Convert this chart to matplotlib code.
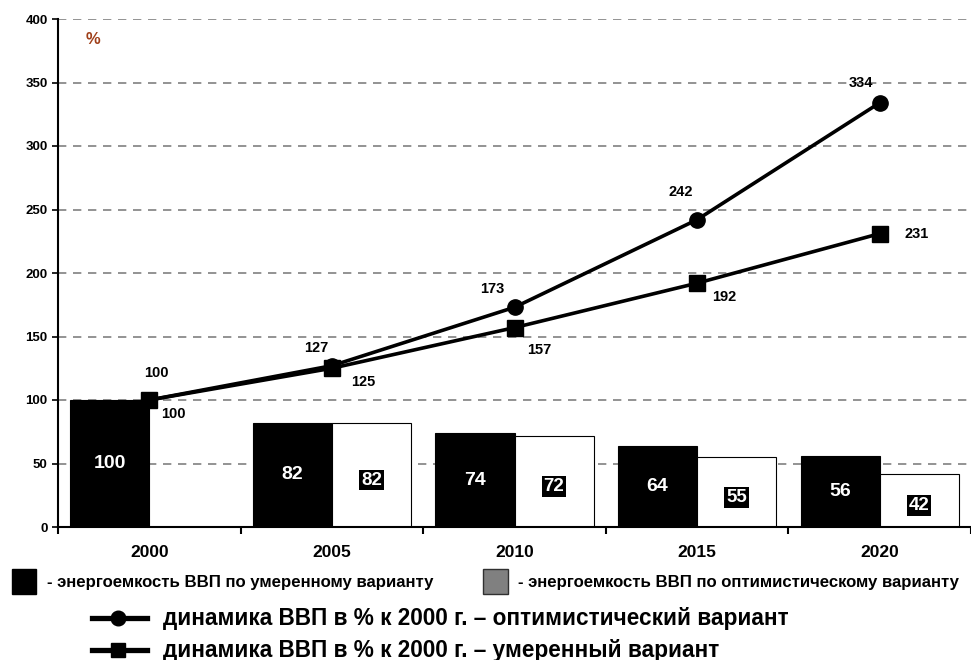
import numpy as np
import matplotlib
matplotlib.use('Agg')
import matplotlib.pyplot as plt
from matplotlib.patches import Rectangle
from matplotlib.lines import Line2D

plt.rcParams['font.family'] = ['Liberation Sans', 'DejaVu Sans']
plt.rcParams['font.weight'] = 'bold'

# data
years = ['2000', '2005', '2010', '2015', '2020']
intensity_moderate = [100, 82, 74, 64, 56]
intensity_optimistic = [None, 82, 72, 55, 42]
gdp_optimistic = [100, 127, 173, 242, 334]
gdp_moderate = [100, 125, 157, 192, 231]

fig = plt.figure(figsize=(9.71, 6.6), dpi=100)
ax = fig.add_axes([58 / 971, 1 - 527 / 660, 1 - 58 / 971, (527 - 19) / 660])

x = np.arange(len(years))
w = 0.433

# bars
for i in range(len(years)):
    ax.bar(x[i] - w / 2, intensity_moderate[i], width=w, color='black',
           edgecolor='black', linewidth=0.8, zorder=2)
    ax.text(x[i] - w / 2, intensity_moderate[i] / 2, str(intensity_moderate[i]),
            color='white', fontsize=14, fontweight='bold', ha='center', va='center', zorder=5)
    v = intensity_optimistic[i]
    if v is not None:
        ax.bar(x[i] + w / 2, v, width=w, color='white', edgecolor='black',
               linewidth=0.8, zorder=2)
        ax.text(x[i] + w / 2, v / 2 - 4, str(v), color='white', fontsize=13.5,
                fontweight='bold', ha='center', va='center', zorder=5,
                bbox=dict(boxstyle='square,pad=0.1', fc='black', ec='none'))

# lines
ax.plot(x, gdp_optimistic, color='black', lw=2.6, marker='o', ms=11, zorder=4)
ax.plot(x, gdp_moderate, color='black', lw=2.6, marker='s', ms=11, zorder=4)

# label offsets in pixels (dx, dy up)
opt_off = [(7, 27), (-16, 18), (-22, 18), (-16, 28), (-19, 20)]
mod_off = [(24, -14), (31, -14), (25, -22), (27, -14), (37, 0)]
for i in range(len(years)):
    dx, dy = opt_off[i]
    ax.annotate(str(gdp_optimistic[i]), (x[i], gdp_optimistic[i]), xytext=(dx * 0.72, dy * 0.72),
                textcoords='offset points', fontsize=10.5, fontweight='bold',
                ha='center', va='center', zorder=6)
    dx, dy = mod_off[i]
    ax.annotate(str(gdp_moderate[i]), (x[i], gdp_moderate[i]), xytext=(dx * 0.72, dy * 0.72),
                textcoords='offset points', fontsize=10.5, fontweight='bold',
                ha='center', va='center', zorder=6)

ax.set_xlim(-0.5, 4.5)
ax.set_ylim(0, 400)
ax.set_yticks(np.arange(0, 401, 50))
ax.tick_params(axis='y', labelsize=9.5, length=4, width=1.2, direction='out')
for lbl in ax.get_yticklabels():
    lbl.set_fontweight('bold')
ax.set_xticks(x)
ax.set_xticklabels(years, fontsize=12.5, fontweight='bold')
ax.tick_params(axis='x', length=0, pad=13)
ax.set_xticks(np.arange(-0.5, 4.6, 1), minor=True)
ax.tick_params(axis='x', which='minor', length=5, width=1.5, direction='out')
ax.yaxis.grid(True, color='#808080', linestyle=(0, (5, 4)), linewidth=1.2, zorder=0)
ax.set_axisbelow(True)
for s in ['top', 'right']:
    ax.spines[s].set_visible(False)
ax.spines['left'].set_linewidth(1.5)
ax.spines['bottom'].set_linewidth(1.5)

ax.text(0.03, 0.96, '%', transform=ax.transAxes, color='#a0401a', fontsize=12,
        fontweight='bold', ha='left', va='center')

# legend (drawn in figure pixels)
def fx(px):
    return px / 971

def fy(py):
    return 1 - py / 660

fig.patches.append(Rectangle((fx(12), fy(594)), fx(24), 25 / 660, transform=fig.transFigure,
                             fc='black', ec='black'))
fig.text(fx(47), fy(582), '- энергоемкость ВВП по умеренному варианту', fontsize=12.1,
         fontweight='bold', va='center', ha='left')
fig.patches.append(Rectangle((fx(483), fy(594)), fx(25), 25 / 660, transform=fig.transFigure,
                             fc='#808080', ec='#303030', lw=1))
fig.text(fx(518), fy(582), '- энергоемкость ВВП по оптимистическому варианту', fontsize=12.1,
         fontweight='bold', va='center', ha='left')

fig.lines.append(Line2D([fx(92), fx(147)], [fy(618), fy(618)], transform=fig.transFigure,
                        color='black', lw=3.8))
fig.lines.append(Line2D([fx(118)], [fy(618)], transform=fig.transFigure,
                        color='black', marker='o', ms=10.5))
fig.text(fx(163), fy(618), 'динамика ВВП в % к 2000 г. – оптимистический вариант', fontsize=16.3,
         fontweight='bold', va='center', ha='left')
fig.lines.append(Line2D([fx(92), fx(147)], [fy(650), fy(650)], transform=fig.transFigure,
                        color='black', lw=3.8))
fig.lines.append(Line2D([fx(118)], [fy(650)], transform=fig.transFigure,
                        color='black', marker='s', ms=10.5))
fig.text(fx(163), fy(650), 'динамика ВВП в % к 2000 г. – умеренный вариант', fontsize=16.3,
         fontweight='bold', va='center', ha='left')

fig.savefig('out.png', dpi=100)
